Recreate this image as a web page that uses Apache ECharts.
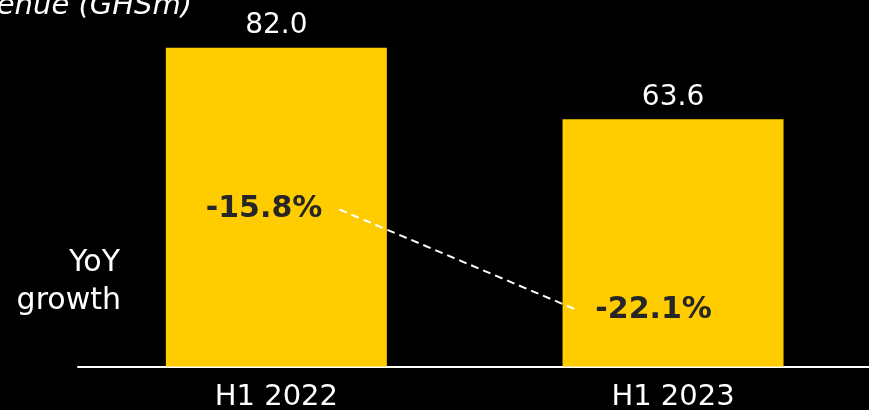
<!DOCTYPE html>
<html>
<head>
<meta charset="utf-8">
<style>
  html, body { margin: 0; padding: 0; background: #000; }
  #chart { width: 869px; height: 410px; }
</style>
<script src="https://cdn.jsdelivr.net/npm/echarts@6/dist/echarts.min.js"></script>
</head>
<body>
<div id="chart"></div>
<script>
// Half-year revenue and its year-on-year growth
const periods = ['H1 2022', 'H1 2023'];
const revenue = [82.0, 63.6];          // GHSm
const yoyGrowth = [-15.8, -22.1];      // %

// Layout helpers: the x axis is a value axis where the periods sit at 0 and 1
const X_MIN = -0.5, X_MAX = 1.494;
const growthLabelX = [-0.031, 0.951];
const growthLineX = [0.159, 0.761];

const FONT = '"DejaVu Sans", sans-serif';
const YELLOW = '#FFCC00';

const chart = echarts.init(document.getElementById('chart'), null, { renderer: 'canvas' });

chart.setOption({
  backgroundColor: '#000000',
  animation: false,
  grid: { left: 78, right: 0, top: 0, bottom: 43.5, containLabel: false, outerBoundsMode: 'none' },
  xAxis: {
    type: 'value',
    min: X_MIN,
    max: X_MAX,
    splitLine: { show: false },
    axisLine: { show: true, onZero: false, lineStyle: { color: '#ffffff', width: 2 } },
    axisTick: { show: false },
    axisLabel: {
      customValues: periods.map((_, i) => i),
      formatter: v => periods[Math.round(v)] || '',
      color: '#ffffff',
      fontFamily: FONT,
      fontSize: 29,
      margin: 16
    }
  },
  yAxis: [
    { type: 'value', min: 0, max: 94.27, show: false, splitLine: { show: false } },
    { type: 'value', min: -25.59, max: -2.73, show: false, splitLine: { show: false } }
  ],
  series: [
    {
      name: 'Revenue',
      type: 'bar',
      data: revenue.map((v, i) => [i, v]),
      barWidth: 221,
      itemStyle: { color: YELLOW },
      label: {
        show: true,
        position: 'top',
        distance: 8,
        color: '#ffffff',
        fontFamily: FONT,
        fontSize: 28,
        formatter: p => p.value[1].toFixed(1)
      }
    },
    {
      name: 'YoY trend',
      type: 'line',
      yAxisIndex: 1,
      data: growthLineX.map((x, i) => [x, yoyGrowth[i]]),
      symbol: 'none',
      lineStyle: { color: '#ffffff', width: 2, type: [8, 5] },
      z: 5
    },
    {
      name: 'YoY growth',
      type: 'scatter',
      yAxisIndex: 1,
      symbolSize: 0,
      itemStyle: { opacity: 1 },
      data: growthLabelX.map((x, i) => [x, yoyGrowth[i]]),
      label: {
        show: true,
        position: 'inside',
        color: '#262626',
        opacity: 1,
        fontFamily: FONT,
        fontWeight: 'bold',
        fontSize: 30,
        formatter: p => p.value[1].toFixed(1) + '%'
      },
      z: 6
    }
  ],
  graphic: [
    {
      type: 'text',
      right: 677,
      top: -8,
      style: {
        text: 'Revenue (GHSm)',
        fill: '#ffffff',
        font: 'italic 29px "DejaVu Sans", sans-serif'
      }
    },
    {
      type: 'text',
      right: 749,
      top: 248,
      style: {
        text: 'YoY',
        fill: '#ffffff',
        font: '30px "DejaVu Sans", sans-serif'
      }
    },
    {
      type: 'text',
      right: 748,
      top: 286,
      style: {
        text: 'growth',
        fill: '#ffffff',
        font: '30px "DejaVu Sans", sans-serif'
      }
    }
  ]
});
</script>
</body>
</html>
